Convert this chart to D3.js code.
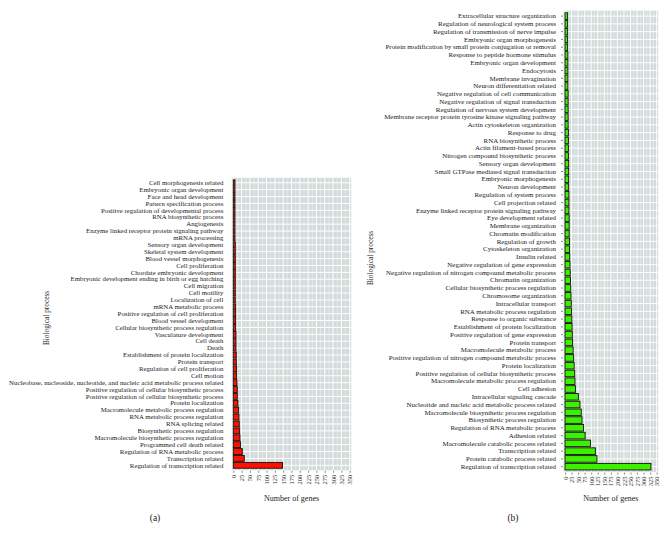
<!DOCTYPE html>
<html>
<head>
<meta charset="utf-8">
<script src="https://cdn.jsdelivr.net/npm/d3@7"></script>
<style>
  body { margin: 0; background: #fff; }
  text { font-family: "Liberation Serif", "DejaVu Serif", serif; fill: #222; }
</style>
</head>
<body>
<svg id="chart" width="671" height="539"></svg>
<script>
// panel (a) categories, top to bottom
const catsA = [
  "Cell morphogenesis related", "Embryonic organ development", "Face and head development",
  "Pattern specification process", "Positive regulation of developmental process",
  "RNA biosynthetic process", "Angiogenesis", "Enzyme linked receptor protein signaling pathway",
  "mRNA processing", "Sensory organ development", "Skeletal system development",
  "Blood vessel morphogenesis", "Cell proliferation", "Chordate embryonic development",
  "Embryonic development ending in birth or egg hatching", "Cell migration", "Cell motility",
  "Localization of cell", "mRNA metabolic process", "Positive regulation of cell proliferation",
  "Blood vessel development", "Cellular biosynthetic process regulation", "Vasculature development",
  "Cell death", "Death", "Establishment of protein localization", "Protein transport",
  "Regulation of cell proliferation", "Cell motion",
  "Nucleobase, nucleoside, nucleotide, and nucleic acid metabolic process related",
  "Positive regulation of cellular biosynthetic process",
  "Positive regulation of cellular biosynthetic process ",
  "Protein localization", "Macromolecule metabolic process regulation",
  "RNA metabolic process regulation", "RNA splicing related", "Biosynthetic process regulation",
  "Macromolecule biosynthetic process regulation", "Programmed cell death related",
  "Regulation of RNA metabolic process", "Transcription related", "Regulation of transcription related"
];
const valsA = [
  5, 5, 5, 5, 5, 5, 5, 5, 5, 6, 6, 6, 6, 6, 6, 6, 6, 6, 7, 7, 7,
  7, 8, 8, 8, 9, 9, 10, 10, 11, 12, 12, 14, 16, 17, 18, 19, 20, 22, 27, 33, 148
];

// panel (b) categories, top to bottom
const catsB = [
  "Extracellular structure organization", "Regulation of neurological system process",
  "Regulation of transmission of nerve impulse", "Embryonic organ morphogenesis",
  "Protein modification by small protein conjugation or removal",
  "Response to peptide hormone stimulus", "Embryonic organ development", "Endocytosis",
  "Membrane invagination", "Neuron differentiation related",
  "Negative regulation of cell communication", "Negative regulation of signal transduction",
  "Regulation of nervous system development",
  "Membrane receptor protein tyrosine kinase signaling pathway", "Actin cytoskeleton organization",
  "Response to drug", "RNA biosynthetic process", "Actin filament-based process",
  "Nitrogen compound biosynthetic process", "Sensory organ development",
  "Small GTPase mediated signal transduction", "Embryonic morphogenesis", "Neuron development",
  "Regulation of system process", "Cell projection related",
  "Enzyme linked receptor protein signaling pathway", "Eye development related",
  "Membrane organization", "Chromatin modification", "Regulation of growth",
  "Cytoskeleton organization", "Insulin related", "Negative regulation of gene expression",
  "Negative regulation of nitrogen compound metabolic process", "Chromatin organization",
  "Cellular biosynthetic process regulation", "Chromosome organization", "Intracellular transport",
  "RNA metabolic process regulation", "Response to organic substance",
  "Establishment of protein localization", "Positive regulation of gene expression",
  "Protein transport", "Macromolecule metabolic process",
  "Positive regulation of nitrogen compound metabolic process", "Protein localization",
  "Positive regulation of cellular biosynthetic process",
  "Macromolecule metabolic process regulation", "Cell adhesion", "Intracellular signaling cascade",
  "Nucleotide and nucleic acid metabolic process related",
  "Macromolecule biosynthetic process regulation", "Biosynthetic process regulation",
  "Regulation of RNA metabolic process", "Adhesion related",
  "Macromolecule catabolic process related", "Transcription related",
  "Protein catabolic process related", "Regulation of transcription related"
];
const valsB = [
  10, 10, 10, 10, 10, 11, 11, 11, 11, 11, 12, 12, 12, 12, 12,
  13, 13, 13, 13, 14, 14, 14, 14, 15, 15, 15, 16, 16, 16, 17, 17,
  18, 19, 20, 21, 22, 23, 24, 25, 26, 27, 28, 29, 31, 33, 35,
  37, 38, 40, 51, 57, 62, 65, 71, 77, 97, 116, 122, 328
];

const xTicks = d3.range(0, 351, 25);

const svg = d3.select("#chart");

function panel(cfg) {
  const g = svg.append("g");
  const x = d3.scaleLinear().domain([0, 350]).range([cfg.x0, cfg.x1]);
  const y = d3.scaleBand().domain(cfg.cats).range([cfg.y0, cfg.y1]).paddingInner(0.15).paddingOuter(0.08);

  // panel background
  g.append("rect")
    .attr("x", cfg.x0 - 1.5).attr("y", cfg.y0 - 1.5)
    .attr("width", cfg.x1 - cfg.x0 + 3).attr("height", cfg.y1 - cfg.y0 + 3)
    .attr("fill", "#d3dbdb");

  // minor vertical grid
  g.selectAll(".vminor").data(d3.range(12.5, 350, 25)).enter().append("line")
    .attr("x1", d => x(d)).attr("x2", d => x(d))
    .attr("y1", cfg.y0 - 1.5).attr("y2", cfg.y1 + 1.5)
    .attr("stroke", "#eef2f2").attr("stroke-width", 0.6);
  // major vertical grid
  g.selectAll(".vmajor").data(xTicks).enter().append("line")
    .attr("x1", d => x(d)).attr("x2", d => x(d))
    .attr("y1", cfg.y0 - 1.5).attr("y2", cfg.y1 + 1.5)
    .attr("stroke", "#fff").attr("stroke-width", 1);
  // horizontal grid per category
  g.selectAll(".hgrid").data(cfg.cats).enter().append("line")
    .attr("x1", cfg.x0 - 1.5).attr("x2", cfg.x1 + 1.5)
    .attr("y1", d => y(d) + y.bandwidth() / 2).attr("y2", d => y(d) + y.bandwidth() / 2)
    .attr("stroke", "#fff").attr("stroke-width", 1);

  // bars
  g.selectAll(".bar").data(cfg.vals).enter().append("rect")
    .attr("x", x(0))
    .attr("y", (d, i) => y(cfg.cats[i]))
    .attr("width", d => x(d) - x(0))
    .attr("height", y.bandwidth())
    .attr("fill", cfg.color)
    .attr("stroke", "#111").attr("stroke-width", 0.9);

  // category labels
  const yAxis = d3.axisLeft(y).tickSize(cfg.tick).tickPadding(cfg.pad);
  const ya = g.append("g").attr("transform", `translate(${cfg.x0 - 2},0)`).call(yAxis);
  ya.select(".domain").remove();
  ya.selectAll("line").attr("stroke", "#888");
  ya.selectAll("text").attr("font-size", cfg.fs).attr("fill", "#1a1a1a")
    .style("font-family", "Liberation Serif");

  // x axis
  const xAxis = d3.axisBottom(x).tickValues(xTicks).tickSize(2).tickPadding(2);
  const xa = g.append("g").attr("transform", `translate(0,${cfg.y1 + 2})`).call(xAxis);
  xa.select(".domain").remove();
  xa.selectAll("line").attr("stroke", "#888");
  xa.selectAll("text")
    .attr("font-size", 6.4).attr("fill", "#222").style("font-family", "Liberation Serif")
    .attr("transform", "rotate(-90)")
    .attr("text-anchor", "end").attr("dy", "0.32em").attr("x", -4).attr("y", 0);

  g.append("text").attr("x", (cfg.x0 + cfg.x1) / 2).attr("y", 501)
    .attr("text-anchor", "middle").attr("font-size", 8).text("Number of genes");

  g.append("text").attr("transform", `translate(${cfg.titleX},${cfg.titleY}) rotate(-90)`)
    .attr("text-anchor", "middle").attr("font-size", 7.3).text("Biological process");

  g.append("text").attr("x", cfg.tagX).attr("y", 521)
    .attr("text-anchor", "middle").attr("font-size", 9.5).text(cfg.tag);
}

panel({ cats: catsA, vals: valsA, color: "#ff1000", x0: 233.3, x1: 349.7, y0: 179.3, y1: 468.8,
        fs: 6.8, tick: 0, pad: 8, titleX: 49, titleY: 318, tagX: 155, tag: "(a)" });
panel({ cats: catsB, vals: valsB, color: "#3cf000", x0: 565, x1: 656.7, y0: 12.2, y1: 470.6,
        fs: 6.95, tick: 2, pad: 5, titleX: 373, titleY: 258, tagX: 513, tag: "(b)" });
</script>
</body>
</html>
